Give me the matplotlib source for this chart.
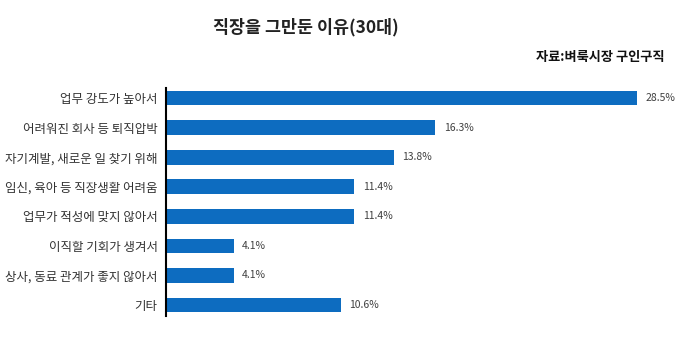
import matplotlib
matplotlib.use("Agg")
import matplotlib.pyplot as plt

plt.rcParams['font.family'] = ['Noto Sans CJK KR', 'DejaVu Sans']

categories = ["업무 강도가 높아서", "어려워진 회사 등 퇴직압박", "자기계발, 새로운 일 찾기 위해",
              "임신, 육아 등 직장생활 어려움", "업무가 적성에 맞지 않아서", "이직할 기회가 생겨서",
              "상사, 동료 관계가 좋지 않아서", "기타"]
values = [28.5, 16.3, 13.8, 11.4, 11.4, 4.1, 4.1, 10.6]
value_labels = ["28.5%", "16.3%", "13.8%", "11.4%", "11.4%", "4.1%", "4.1%", "10.6%"]

fig = plt.figure(figsize=(6.8, 3.62), dpi=100)
ax = fig.add_axes([166/680, 46/362, 496/680, 228/362])
pos = list(range(len(categories)))
ax.barh(pos, values, height=0.5, color='#0D6CC0')
ax.set_ylim(len(categories) - 1 + 0.37, -0.34)
ax.set_xlim(0, 30)
for p, v, t in zip(pos, values, value_labels):
    ax.text(v + 0.5, p, t, va='center', ha='left', fontsize=7.5, color='#404040')
ax.set_yticks(pos)
ax.set_yticklabels(categories, fontsize=9, color='#333333')
ax.tick_params(axis='y', length=0, pad=6)
ax.set_xticks([])
for s in ['top', 'right', 'bottom']:
    ax.spines[s].set_visible(False)
ax.spines['left'].set_linewidth(1.5)
ax.spines['left'].set_color('black')

fig.text(306/680, 1 - 27/362, "직장을 그만둔 이유(30대)", ha='center', va='center', fontsize=12.5, fontweight='bold', color='#222222')
fig.text(665/680, 1 - 57/362, "자료:벼룩시장 구인구직", ha='right', va='center', fontsize=9.5, fontweight='bold', color='#111111')

fig.savefig('out.png', dpi=100)
